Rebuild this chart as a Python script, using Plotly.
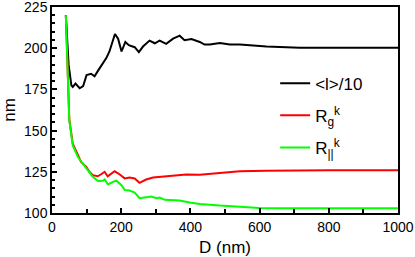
import plotly.graph_objects as go

# <l>/10
D_l = [40, 48, 56, 60, 68, 80, 90, 100, 113, 123, 135, 147, 157, 166, 174, 182, 191, 201,
       212, 222, 239, 251, 263, 282, 297, 311, 330, 350, 369, 383, 403, 427, 441, 456,
       485, 514, 543, 572, 620, 716, 800, 900, 1000]
l_over_10 = [220, 190, 177.5, 176.5, 178.5, 175.7, 177, 183.7, 184.5, 183, 187, 191, 194, 198,
             203, 208.6, 205.8, 198, 203.8, 201.8, 200.6, 197.6, 201, 204.6, 203, 204.6, 202.6,
             205.8, 207.6, 204.8, 205.6, 203.8, 202.2, 202.2, 203.2, 202.2, 202.2, 201.6, 201,
             200.3, 200.3, 200.3, 200.3]

# R_g^k
D_g = [40, 50, 60, 70, 84, 99, 108, 118, 132, 142, 152, 161, 171, 181, 195, 210, 224, 239,
       253, 272, 292, 311, 350, 388, 427, 485, 543, 620, 700, 800, 1000]
Rg = [220, 157, 142, 137, 131, 128, 125, 123, 122.3, 123.5, 125, 122.3, 124, 125.3, 123.5,
      121, 121.5, 121, 118.3, 120.3, 121.5, 121.9, 122.9, 123.3, 123.2, 124.3, 125.3, 125.7,
      125.9, 125.9, 125.9]

# R_||^k
D_p = [40, 50, 60, 75, 89, 104, 118, 133, 147, 152, 162, 176, 186, 200, 210, 224, 239, 253,
       273, 287, 302, 311, 326, 369, 398, 427, 485, 543, 600, 667, 800, 1000]
Rpar = [220, 156, 141, 134, 130, 126, 122, 119.4, 119.6, 120.4, 117.3, 118.9, 119.6, 117, 114,
        113.6, 112.4, 109, 109.4, 110, 109, 109.4, 108, 107.6, 106.4, 105.5, 104.5, 103.7,
        103.1, 102.9, 102.9, 102.9]

FONT = "Liberation Sans, Arial, Helvetica, sans-serif"

fig = go.Figure()
fig.add_trace(go.Scatter(x=D_l, y=l_over_10, mode="lines", name="&lt;l&gt;/10",
                         line=dict(color="#000000", width=2), legendgroup="a"))
fig.add_trace(go.Scatter(x=D_g, y=Rg, mode="lines", name="R<sub>g</sub><sup>k</sup>",
                         line=dict(color="#ff0000", width=2), legendgroup="b"))
fig.add_trace(go.Scatter(x=D_p, y=Rpar, mode="lines", name="R<sub>||</sub><sup>k</sup>",
                         line=dict(color="#00ff00", width=2), legendgroup="c"))

fig.update_layout(
    width=415, height=257,
    margin=dict(l=52, r=17, t=7, b=44),
    paper_bgcolor="white", plot_bgcolor="white",
    font=dict(family=FONT, color="black", size=14),
    showlegend=True,
    legend=dict(x=0.645, y=0.715, xanchor="left", yanchor="top",
                font=dict(size=17), bgcolor="rgba(0,0,0,0)",
                tracegroupgap=7, itemwidth=30),
    xaxis=dict(range=[0, 1000], dtick=200, tick0=0, ticks="inside", ticklen=5,
               tickwidth=1.5, tickcolor="black", ticklabeloverflow="allow",
               automargin=False,
               minor=dict(dtick=100, ticks="inside", ticklen=4, tickwidth=1.5, tickcolor="black"),
               showline=True, linecolor="black", linewidth=1.5, mirror=True,
               showgrid=False, zeroline=False, tickfont=dict(size=14),
               title=dict(text="D (nm)", font=dict(size=17), standoff=10)),
    yaxis=dict(range=[100, 225], dtick=25, tick0=100, ticks="inside", ticklen=5,
               tickwidth=1.5, tickcolor="black", ticklabeloverflow="allow",
               automargin=False,
               minor=dict(dtick=5, ticks="inside", ticklen=3, tickwidth=1.5, tickcolor="black"),
               showline=True, linecolor="black", linewidth=1.5, mirror=True,
               showgrid=False, zeroline=False, tickfont=dict(size=14),
               title=dict(text="nm", font=dict(size=17), standoff=8)),
)

fig.write_html("out.html", config={"displayModeBar": False},
               post_script="document.body.style.margin='0';")
